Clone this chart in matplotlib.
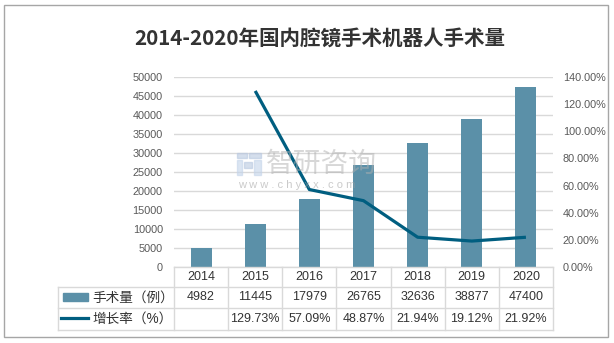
import matplotlib
matplotlib.use("Agg")
import matplotlib.pyplot as plt
from matplotlib.patches import Rectangle
from matplotlib.lines import Line2D
from matplotlib.ticker import FuncFormatter, MultipleLocator
from matplotlib.transforms import blended_transform_factory

plt.rcParams["font.family"] = ["Liberation Sans", "Noto Sans CJK SC", "DejaVu Sans"]

# Data
years = ["2014", "2015", "2016", "2017", "2018", "2019", "2020"]
surgeries = [4982, 11445, 17979, 26765, 32636, 38877, 47400]
growth_years = ["2015", "2016", "2017", "2018", "2019", "2020"]
growth = [129.73, 57.09, 48.87, 21.94, 19.12, 21.92]

title = "2014-2020年国内腔镜手术机器人手术量"
bar_label = "手术量（例）"
line_label = "增长率（%）"

BAR_COLOR = "#5B90A8"
LINE_COLOR = "#005E80"
GRID_COLOR = "#D9D9D9"
TEXT_COLOR = "#595959"

W, H = 614, 343
fig = plt.figure(figsize=(W / 100, H / 100), dpi=100)


def fy(py):
    """pixel row (from top) -> figure fraction"""
    return (H - py) / H


def fx(px):
    return px / W


ax = fig.add_axes([fx(174), fy(267), fx(553) - fx(174), fy(77) - fy(267)])
x = list(range(len(years)))
ax.bar(x, surgeries, width=0.39, color=BAR_COLOR, zorder=2)
ax.set_xlim(-0.5, len(years) - 0.5)
ax.set_ylim(0, 50000)
ax.yaxis.set_major_locator(MultipleLocator(5000))
ax.grid(axis="y", color=GRID_COLOR, linewidth=1, zorder=0)
ax.set_axisbelow(True)
ax.set_xticks([])
ax.tick_params(axis="y", length=0, pad=8, labelsize=7.8, labelcolor=TEXT_COLOR)
for s in ax.spines.values():
    s.set_visible(False)

ax2 = ax.twinx()
gx = [years.index(y) for y in growth_years]
ax2.plot(gx, [g / 100 for g in growth], color=LINE_COLOR, linewidth=2.3, zorder=3,
         solid_capstyle="butt")
ax2.set_ylim(0, 1.4)
ax2.yaxis.set_major_locator(MultipleLocator(0.2))
ax2.yaxis.set_major_formatter(FuncFormatter(lambda v, _: f"{v * 100:.2f}%"))
ax2.tick_params(axis="y", length=0, pad=7, labelsize=7.8, labelcolor=TEXT_COLOR)
for s in ax2.spines.values():
    s.set_visible(False)

# Title
fig.text(fx(320), fy(38), title, ha="center", va="center", fontsize=14.8,
         fontweight="bold", color="#333333", family=["Noto Sans CJK SC", "DejaVu Sans"])

# Data table under the plot
tr = blended_transform_factory(ax.transData, fig.transFigure)
row_top, row1, row2, row_bot = 267, 287, 308, 330
table_font = 9
label_font = 9.8
for i, yr in enumerate(years):
    fig.text(i, fy((row_top + row1) / 2), yr, transform=tr, ha="center", va="center",
             fontsize=table_font, color="#333333")
    fig.text(i, fy((row1 + row2) / 2), str(surgeries[i]), transform=tr, ha="center",
             va="center", fontsize=table_font, color="#333333")
for yr, g in zip(growth_years, growth):
    fig.text(years.index(yr), fy((row2 + row_bot) / 2), f"{g:.2f}%", transform=tr,
             ha="center", va="center", fontsize=table_font, color="#333333")

for k in range(len(years) + 1):
    fig.add_artist(Line2D([k - 0.5, k - 0.5], [fy(row_top), fy(row_bot)], transform=tr,
                          color=GRID_COLOR, linewidth=1))
for py in (row1, row2, row_bot):
    fig.add_artist(Line2D([fx(58), fx(553)], [fy(py), fy(py)], color=GRID_COLOR, linewidth=1))
fig.add_artist(Line2D([fx(174), fx(553)], [fy(row_top), fy(row_top)], color=GRID_COLOR,
                      linewidth=1))
fig.add_artist(Line2D([fx(58), fx(58)], [fy(row1), fy(row_bot)], color=GRID_COLOR,
                      linewidth=1))

# legend keys inside the table
fig.add_artist(Rectangle((fx(63), fy(301)), fx(88) - fx(63), fy(293) - fy(301),
                         color=BAR_COLOR, transform=fig.transFigure))
fig.add_artist(Line2D([fx(61), fx(88)], [fy(318), fy(318)], color=LINE_COLOR, linewidth=2.3))
fig.text(fx(92), fy((row1 + row2) / 2), bar_label, ha="left", va="center",
         fontsize=label_font, color="#333333")
fig.text(fx(92), fy((row2 + row_bot) / 2), line_label, ha="left", va="center",
         fontsize=label_font, color="#333333")

# watermark (logo blocks + text)
for (lx, ly, lw, lh, c) in [(237, 153, 10, 5, "#B8C8E0"), (249, 153, 12, 5, "#B8C8E0"),
                            (237, 160, 5, 15, "#C4D4EA"), (244, 162, 8, 6, "#B8C8E0"),
                            (254, 160, 7, 15, "#C4D4EA")]:
    fig.add_artist(Rectangle((fx(lx), fy(ly + lh)), fx(lw), lh / H, color=c, alpha=0.6,
                             transform=fig.transFigure, zorder=10))
fig.text(fx(266), fy(164), "智研咨询", ha="left", va="center", fontsize=20,
         color="#B0B0B0", alpha=0.5, family=["Noto Sans CJK SC"], zorder=10)
fig.text(fx(238), fy(185), "w w w . c h y x x . c o m", ha="left", va="center",
         fontsize=8, color="#A0A0A0", alpha=0.55, zorder=10)

# outer frame
fig.add_artist(Rectangle((fx(4), fy(337)), fx(608) - fx(4), fy(5) - fy(337), fill=False,
                         edgecolor="#A6A6A6", linewidth=1, transform=fig.transFigure))

fig.savefig("out.png", dpi=100)
